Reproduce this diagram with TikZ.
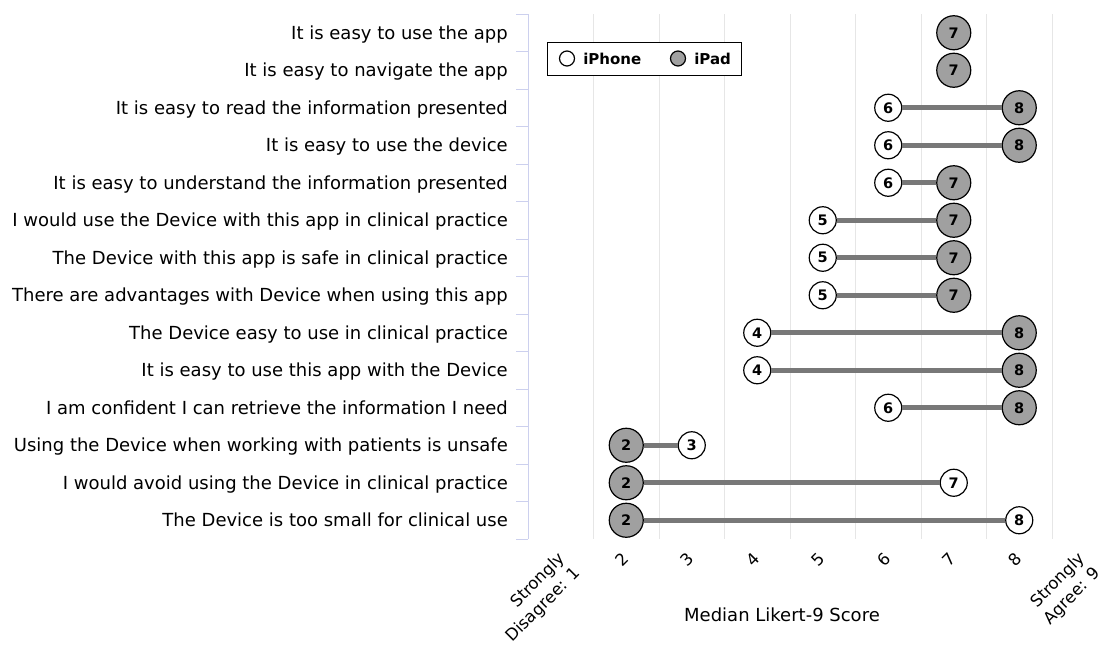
\documentclass[tikz,border=0pt]{standalone}
\usepackage{fontspec}
\setmainfont{DejaVu Sans}
\usetikzlibrary{positioning}

\definecolor{padgray}{HTML}{A0A0A0}
\definecolor{linkgray}{HTML}{787878}
\definecolor{gridgray}{HTML}{E6E6E6}
\definecolor{axisblue}{HTML}{CCD0EE}
\newcommand{\qfont}{\fontsize{18}{22}\selectfont}

\begin{document}
\begin{tikzpicture}[x=1pt, y=-1pt,
    phone/.style={circle, draw, line width=1.2pt, fill=white, minimum size=27pt, inner sep=0pt, font=\bfseries\fontsize{14.5}{14.5}\selectfont},
    pad/.style={phone, fill=padgray, minimum size=34pt},
    link/.style={draw=linkgray, line width=5pt},
    ticklab/.style={rotate=45, anchor=north east, align=right, inner sep=1pt, font=\fontsize{16.5}{21}\selectfont}]
    \useasboundingbox[fill=white] (0,0) rectangle (1103,645);
    % grid lines between the scores
    \foreach \j in {1,...,8}
        \draw[gridgray, line width=1pt] (528+65.5*\j,14) -- (528+65.5*\j,539);
    % question axis
    \draw[axisblue, line width=1pt] (528,14) -- (528,539);
    \foreach \k in {0,...,14}
        \draw[axisblue, line width=1pt] (516,14+37.5*\k) -- (528,14+37.5*\k);
    % row/question/iPhone/iPad
    \foreach \k/\txt/\ph/\pd in {1/{It is easy to use the app}/7/7,
        2/{It is easy to navigate the app}/7/7,
        3/{It is easy to read the information presented}/6/8,
        4/{It is easy to use the device}/6/8,
        5/{It is easy to understand the information presented}/6/7,
        6/{I would use the Device with this app in clinical practice}/5/7,
        7/{The Device with this app is safe in clinical practice}/5/7,
        8/{There are advantages with Device when using this app}/5/7,
        9/{The Device easy to use in clinical practice}/4/8,
        10/{It is easy to use this app with the Device}/4/8,
        11/{I am confident I can retrieve the information I need}/6/8,
        12/{Using the Device when working with patients is unsafe}/3/2,
        13/{I would avoid using the Device in clinical practice}/7/2,
        14/{The Device is too small for clinical use}/8/2}{
        \node[anchor=base east, inner sep=0pt, font=\qfont] (q\k) at (508,37.5*\k+1.75) {\txt};
        \node[pad] (pd\k) at (495.25+65.5*\pd,37.5*\k-4.75) {\pd};
        \ifnum\ph=\pd\else
            \node[phone] (ph\k) at (495.25+65.5*\ph,37.5*\k-4.75) {\ph};
            \draw[link] (ph\k) -- (pd\k);
        \fi
    }
    % score labels
    \node[ticklab] (t1) at (557,549) {Strongly\\Disagree: 1};
    \foreach \v in {2,...,8}
        \node[ticklab] (t\v) at (490.25+65.5*\v,550) {\v};
    \node[ticklab] (t9) at (1077,549) {Strongly\\Agree: 9};
    \node[font=\qfont] (xtitle) at (782,615) {Median Likert-9 Score};
    % legend
    \node[draw, line width=1pt, fill=white, minimum width=194pt, minimum height=33pt] (legend) at (644,58.5) {};
    \node[circle, draw, line width=1.2pt, fill=white, minimum size=15pt, inner sep=0pt] (lph) at (567,58.5) {};
    \node[right=8pt of lph, inner sep=0pt, font=\bfseries\fontsize{15}{15}\selectfont] (lphtxt) {iPhone};
    \node[circle, draw, line width=1.2pt, fill=padgray, minimum size=15pt, inner sep=0pt] (lpd) at (678,58.5) {};
    \node[right=8pt of lpd, inner sep=0pt, font=\bfseries\fontsize{15}{15}\selectfont] (lpdtxt) {iPad};
\end{tikzpicture}
\end{document}
